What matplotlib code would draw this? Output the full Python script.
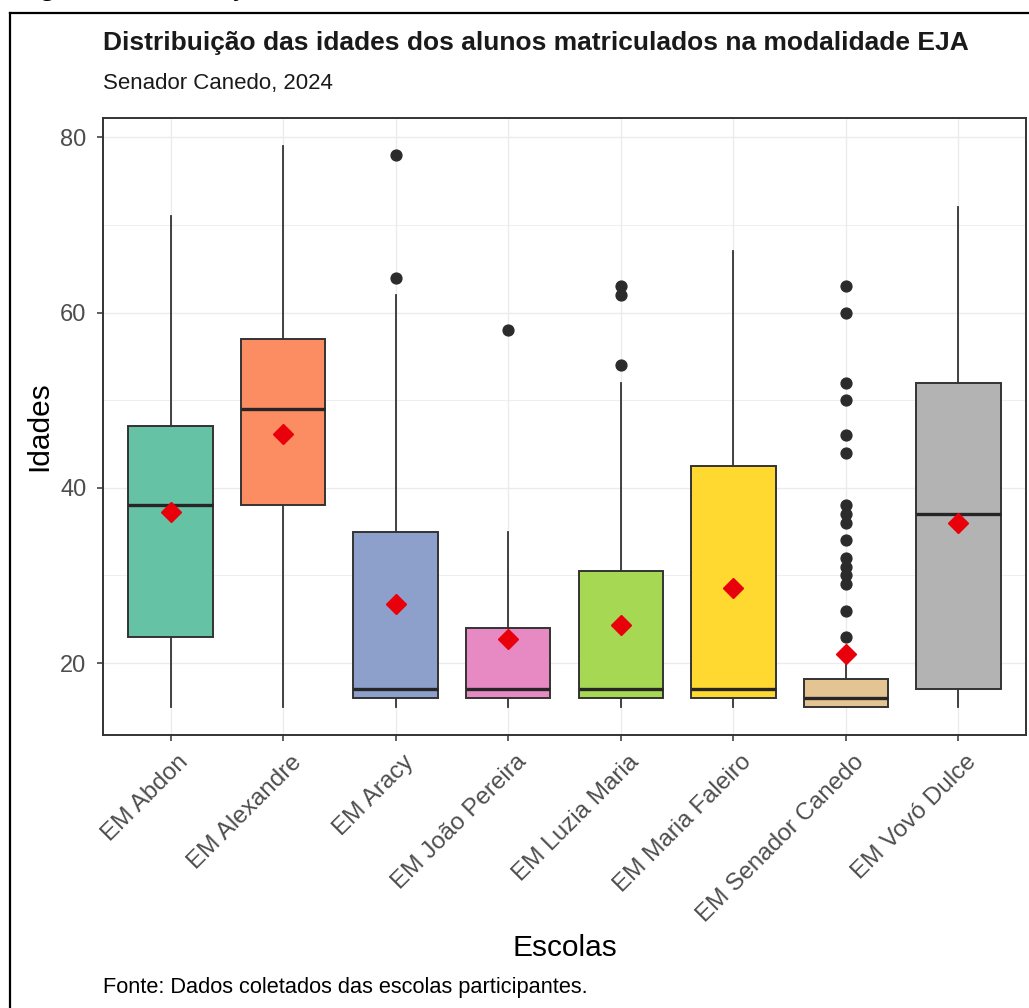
import matplotlib
matplotlib.use("Agg")
from matplotlib import pyplot as plt
from matplotlib.lines import Line2D
from matplotlib.transforms import ScaledTranslation

plt.rcParams['font.family'] = ['Liberation Sans', 'DejaVu Sans']

W, H = 1029, 1008

# dados
schools = ["EM Abdon", "EM Alexandre", "EM Aracy", "EM João Pereira",
           "EM Luzia Maria", "EM Maria Faleiro", "EM Senador Canedo", "EM Vovó Dulce"]
whis_lo = [15, 15, 15, 15, 15, 15, 15, 15]
q1 = [23, 38, 16, 16, 16, 16, 15, 17]
medians = [38, 49, 17, 17, 17, 17, 16, 37]
q3 = [47, 57, 35, 24, 30.5, 42.5, 18.2, 52]
whis_hi = [71, 79, 62, 35, 52, 67, 22, 72]
means = [37.2, 46.2, 26.7, 22.8, 24.4, 28.6, 21, 36]
outliers = [[], [], [78, 64], [58], [63, 62, 54], [],
            [63, 60, 52, 50, 46, 44, 38, 37, 36, 34, 32, 31, 30, 29, 26, 23], []]
colors = ["#66C2A5", "#FC8D62", "#8DA0CB", "#E78AC3",
          "#A6D854", "#FFD92F", "#E5C494", "#B3B3B3"]

fig = plt.figure(figsize=(W / 100, H / 100), dpi=100)
ax = fig.add_axes([103 / W, 1 - 735 / H, 923 / W, 617 / H])

stats = []
for i in range(len(schools)):
    stats.append({"whislo": whis_lo[i], "q1": q1[i], "med": medians[i], "q3": q3[i],
                  "whishi": whis_hi[i], "fliers": outliers[i]})

pos = list(range(1, len(schools) + 1))
bp = ax.bxp(stats, positions=pos, widths=0.75, patch_artist=True, showcaps=False,
            boxprops=dict(edgecolor="#333333", linewidth=1.4),
            medianprops=dict(color="#262626", linewidth=2.4, solid_capstyle="butt"),
            whiskerprops=dict(color="#333333", linewidth=1.3),
            flierprops=dict(marker="o", markerfacecolor="#2b2b2b", markeredgecolor="#2b2b2b",
                            markersize=7.8))
for patch, c in zip(bp["boxes"], colors):
    patch.set_facecolor(c)
for w in bp["whiskers"]:
    w.set_zorder(1)

ax.plot(pos, means, linestyle="none", marker="D", color="#E8000B",
        markeredgecolor="#E8000B", markersize=10.5, zorder=5)

ax.set_xlim(0.4, 8.6)
ax.set_ylim(11.8, 82.2)
ax.set_yticks([20, 40, 60, 80])
ax.set_yticks([30, 50, 70], minor=True)
ax.set_xticks(pos)
ax.set_xticklabels(schools, rotation=45, ha="right", va="top", rotation_mode="anchor")

ax.grid(True, which="major", color="#EBEBEB", linewidth=1.0)
ax.grid(True, which="minor", axis="y", color="#EBEBEB", linewidth=0.6)
ax.set_axisbelow(True)
for s in ax.spines.values():
    s.set_color("#333333")
    s.set_linewidth(1.4)
ax.tick_params(axis="both", which="major", length=4, width=1.1, color="#333333",
               labelcolor="#4D4D4D")
ax.tick_params(axis="y", which="major", labelsize=17, pad=8)
ax.tick_params(axis="y", which="minor", length=0)
ax.tick_params(axis="x", which="major", labelsize=17.5, pad=6)
shift = ScaledTranslation(7 / 100, -2 / 100, fig.dpi_scale_trans)
for lab in ax.get_xticklabels():
    lab.set_transform(lab.get_transform() + shift)

ax.set_ylabel("Idades", fontsize=21.5, color="black", va="center")
ax.yaxis.set_label_coords((39 - 103) / 923, 0.5)
ax.set_xlabel("Escolas", fontsize=21.5, color="black", va="center")
ax.xaxis.set_label_coords(0.5, (735 - 948) / 617)

fig.text(103 / W, 1 - 43 / H, "Distribuição das idades dos alunos matriculados na modalidade EJA",
         fontsize=19, fontweight="bold", color="#1a1a1a", ha="left", va="center")
fig.text(103 / W, 1 - 84 / H, "Senador Canedo, 2024", fontsize=16, color="#1a1a1a",
         ha="left", va="center")
fig.text(103 / W, 1 - 988 / H, "Fonte: Dados coletados das escolas participantes.",
         fontsize=15.7, color="black", ha="left", va="center")

# legenda do documento, cortada no topo
fig.text(19 / W, 1 + 4 / H, "Figura 1 – Distribuição das idades dos alunos matriculados na modalidade EJA",
         fontsize=18, fontweight="bold", family=["Liberation Serif", "DejaVu Serif"],
         ha="left", va="baseline")

# moldura
fig.add_artist(Line2D([10 / W, 1], [1 - 13 / H, 1 - 13 / H], color="black", linewidth=1.6))
fig.add_artist(Line2D([10 / W, 10 / W], [0, 1 - 13 / H], color="black", linewidth=1.6))

fig.savefig("out.png", dpi=100)
